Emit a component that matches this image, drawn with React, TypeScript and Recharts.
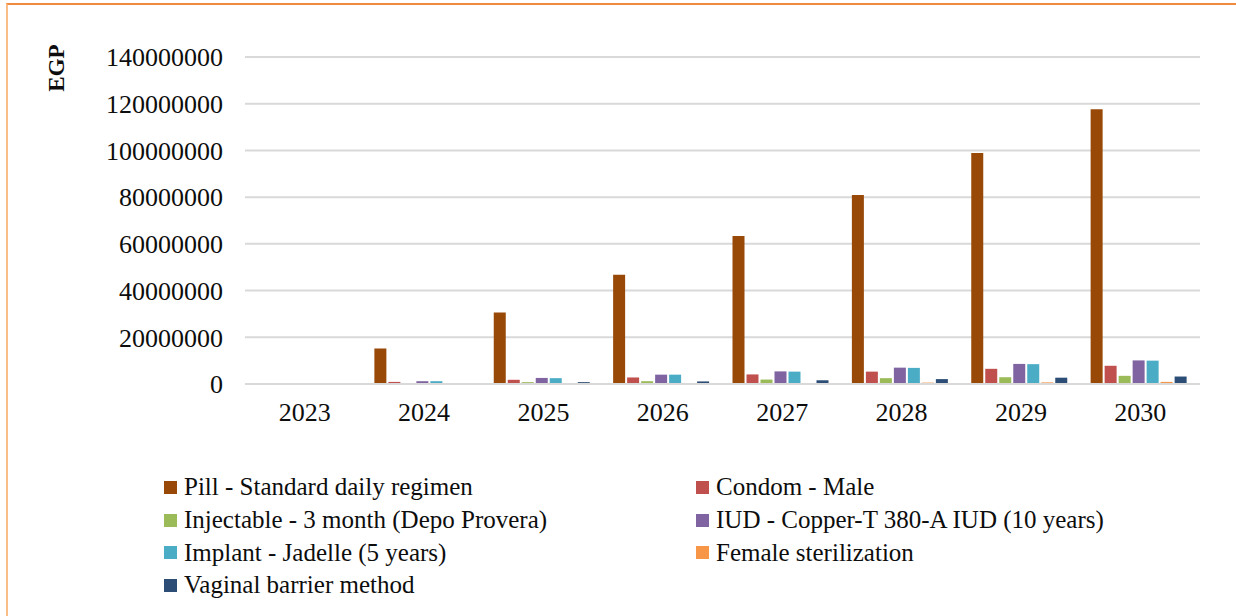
import { BarChart, Bar, XAxis, YAxis, CartesianGrid } from 'recharts';

const years = ['2023', '2024', '2025', '2026', '2027', '2028', '2029', '2030'];

const pill = [0, 15200000, 30600000, 46800000, 63400000, 80900000, 98900000, 117600000];
const condom = [0, 900000, 1800000, 2800000, 4100000, 5300000, 6500000, 7800000];
const injectable = [0, 400000, 800000, 1200000, 1900000, 2500000, 2900000, 3500000];
const iud = [0, 1200000, 2600000, 4000000, 5400000, 7000000, 8600000, 10100000];
const implant = [0, 1200000, 2500000, 4000000, 5300000, 6900000, 8500000, 10000000];
const femaleSterilization = [0, 100000, 200000, 300000, 400000, 600000, 700000, 900000];
const vaginalBarrier = [0, 400000, 800000, 1100000, 1600000, 2100000, 2700000, 3200000];

const yTicks = [0, 20000000, 40000000, 60000000, 80000000, 100000000, 120000000, 140000000];

const series = [
    { key: 'pill', name: 'Pill - Standard daily regimen', color: '#984807', values: pill },
    { key: 'condom', name: 'Condom - Male', color: '#c0504d', values: condom },
    { key: 'injectable', name: 'Injectable - 3 month (Depo Provera)', color: '#9bbb59', values: injectable },
    { key: 'iud', name: 'IUD - Copper-T 380-A IUD (10 years)', color: '#8064a2', values: iud },
    { key: 'implant', name: 'Implant - Jadelle (5 years)', color: '#4bacc6', values: implant },
    { key: 'female', name: 'Female sterilization', color: '#f79646', values: femaleSterilization },
    { key: 'vaginal', name: 'Vaginal barrier method', color: '#2c4d75', values: vaginalBarrier },
];

const data = years.map((year, i) => {
    const row: Record<string, string | number> = { year };
    series.forEach(s => { row[s.key] = s.values[i]; });
    return row;
});

const font = '"Liberation Serif", "Times New Roman", serif';
const tickStyle = { fontSize: 26, fill: '#0d0d0d', fontFamily: font };

const App = () => {
    return (
        <div style={{ position: 'absolute', left: 0, top: 0, width: 1236, height: 616, background: '#fff', overflow: 'hidden', fontFamily: font }}>
            {/* frame of the source document */}
            <div style={{ position: 'absolute', left: 6, top: 3, width: 1240, height: 640, borderTop: '2px solid #f08a3e', borderLeft: '2px solid #fbbd86' }} />

            <div style={{
                position: 'absolute', left: 57, top: 68, transform: 'translate(-50%, -50%) rotate(-90deg)',
                fontSize: 23, fontWeight: 'bold', color: '#0d0d0d', whiteSpace: 'nowrap'
            }}>EGP</div>

            <div style={{ position: 'absolute', left: 0, top: 0 }}>
                <BarChart
                    width={1236}
                    height={616}
                    data={data}
                    margin={{ top: 57, right: 36, left: 0, bottom: 192 }}
                    barCategoryGap={10}
                    barGap={2}
                >
                    <CartesianGrid stroke='#d9d9d9' strokeWidth={2} vertical={false} />
                    <XAxis
                        dataKey='year'
                        tick={tickStyle}
                        tickLine={false}
                        axisLine={{ stroke: '#d9d9d9', strokeWidth: 2 }}
                        tickMargin={13}
                        height={40}
                    />
                    <YAxis
                        domain={[0, 140000000]}
                        ticks={yTicks}
                        tick={tickStyle}
                        tickLine={false}
                        axisLine={false}
                        tickMargin={16}
                        width={245}
                        interval={0}
                    />
                    {series.map(s => (
                        <Bar key={s.key} dataKey={s.key} name={s.name} fill={s.color} isAnimationActive={false} />
                    ))}
                </BarChart>
            </div>

            <div style={{
                position: 'absolute', left: 164, top: 471, display: 'grid',
                gridTemplateColumns: '532px 520px', gridAutoRows: '32.7px', fontSize: 25, color: '#0d0d0d'
            }}>
                {series.map(s => (
                    <div key={s.key} style={{ display: 'flex', alignItems: 'center', whiteSpace: 'nowrap' }}>
                        <span style={{ width: 13, height: 13, background: s.color, marginRight: 7, flexShrink: 0 }} />
                        <span>{s.name}</span>
                    </div>
                ))}
            </div>
        </div>
    );
};

export default App;
